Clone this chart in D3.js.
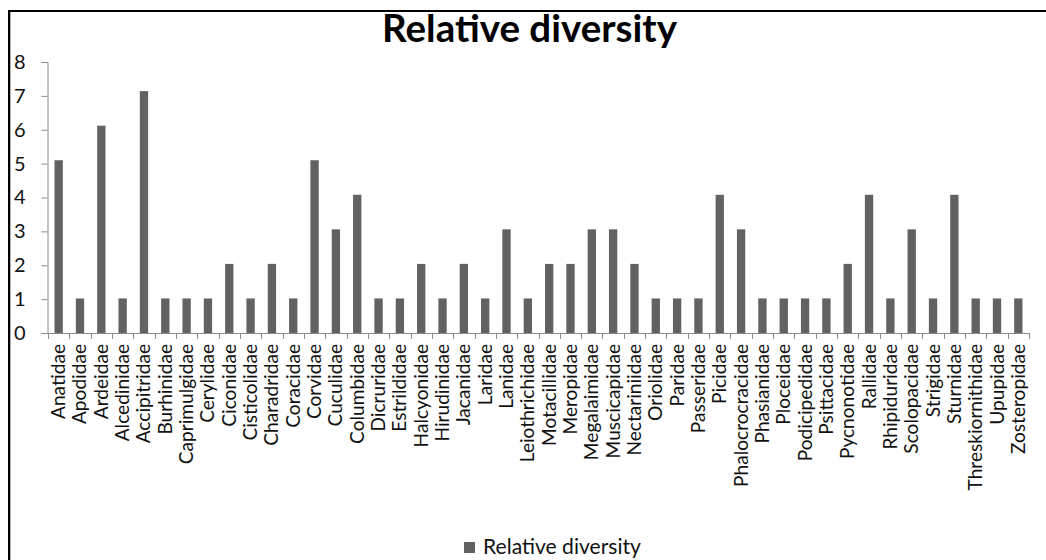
<!DOCTYPE html>
<html>
<head>
<meta charset="utf-8">
<script src="https://cdn.jsdelivr.net/npm/d3@7"></script>
<style>
  html, body { margin: 0; padding: 0; background: #fff; }
  svg { display: block; }
  text { font-family: Lato, "Open Sans", sans-serif; }
</style>
</head>
<body>
<svg id="chart" width="1046" height="560"></svg>
<script>
// Bird families and their share of recorded species (%)
const families = [
  "Anatidae", "Apodidae", "Ardeidae", "Alcedinidae", "Accipitridae",
  "Burhinidae", "Caprimulgidae", "Cerylidae", "Ciconidae", "Cisticolidae",
  "Charadridae", "Coracidae", "Corvidae", "Cuculidae", "Columbidae",
  "Dicruridae", "Estrildidae", "Halcyonidae", "Hirudinidae", "Jacanidae",
  "Laridae", "Lanidae", "Leiothrichidae", "Motacillidae", "Meropidae",
  "Megalaimidae", "Muscicapidae", "Nectariniidae", "Oriolidae", "Paridae",
  "Passeridae", "Picidae", "Phalocrocracidae", "Phasianidae", "Ploceidae",
  "Podicipedidae", "Psittacidae", "Pycnonotidae", "Rallidae", "Rhipiduridae",
  "Scolopacidae", "Strigidae", "Sturnidae", "Threskiornithidae", "Upupidae",
  "Zosteropidae"
];
const relativeDiversity = [
  5.10, 1.02, 6.12, 1.02, 7.14,
  1.02, 1.02, 1.02, 2.04, 1.02,
  2.04, 1.02, 5.10, 3.06, 4.08,
  1.02, 1.02, 2.04, 1.02, 2.04,
  1.02, 3.06, 1.02, 2.04, 2.04,
  3.06, 3.06, 2.04, 1.02, 1.02,
  1.02, 4.08, 3.06, 1.02, 1.02,
  1.02, 1.02, 2.04, 4.08, 1.02,
  3.06, 1.02, 4.08, 1.02, 1.02,
  1.02
];
const yTicks = [0, 1, 2, 3, 4, 5, 6, 7, 8];
const seriesName = "Relative diversity";
const chartTitle = "Relative diversity";

const barColor = "#626262";
const axisColor = "#8c8c8c";
const textColor = "#111";

const svg = d3.select("#chart");

// frame lines on the top and left edges
svg.append("rect").attr("x", 8).attr("y", 10).attr("width", 1038).attr("height", 2).attr("fill", "#000");
svg.append("rect").attr("x", 8).attr("y", 10).attr("width", 2).attr("height", 550).attr("fill", "#000");
svg.append("rect").attr("x", 10).attr("y", 12).attr("width", 1).attr("height", 548).attr("fill", "#b0b0b0");

const plot = { left: 48, right: 1029, top: 62, bottom: 333 };

const x = d3.scaleBand()
  .domain(families)
  .range([plot.left, plot.right])
  .paddingInner(0.61)
  .paddingOuter(0.305);

const y = d3.scaleLinear()
  .domain([0, 8])
  .range([plot.bottom, plot.top]);

// fit a text element to a target width by adjusting its font size
function fitWidth(sel, target) {
  const node = sel.node();
  const fs = parseFloat(sel.attr("font-size"));
  const w = node.getComputedTextLength();
  if (w > 0) sel.attr("font-size", (fs * target / w).toFixed(2));
}

// title
const title = svg.append("text")
  .attr("x", 529.5).attr("y", 42)
  .attr("text-anchor", "middle")
  .attr("font-size", 36)
  .attr("font-weight", "bold")
  .attr("fill", "#000")
  .text(chartTitle);
fitWidth(title, 295);

// bars
svg.append("g").selectAll("rect")
  .data(families)
  .join("rect")
  .attr("x", d => x(d))
  .attr("width", x.bandwidth())
  .attr("y", (d, i) => y(relativeDiversity[i]))
  .attr("height", (d, i) => y(0) - y(relativeDiversity[i]))
  .attr("fill", barColor);

// y axis
const yAxis = svg.append("g")
  .attr("transform", `translate(${plot.left - 0.5},0)`)
  .call(d3.axisLeft(y).tickValues(yTicks).tickSize(6).tickPadding(16).tickFormat(d3.format("d")));
yAxis.select(".domain").attr("stroke", axisColor);
yAxis.selectAll(".tick line").attr("stroke", axisColor);
yAxis.selectAll(".tick text")
  .attr("font-size", 20)
  .attr("fill", textColor)
  .style("font-family", "Lato, 'Open Sans', sans-serif");

// x axis: baseline with ticks between categories
const xAxis = svg.append("g");
xAxis.append("line")
  .attr("x1", plot.left).attr("x2", plot.right)
  .attr("y1", plot.bottom + 0.5).attr("y2", plot.bottom + 0.5)
  .attr("stroke", axisColor);
const step = x.step();
const boundaries = d3.range(families.length + 1).map(i => plot.left + i * step);
xAxis.selectAll("line.tk")
  .data(boundaries)
  .join("line")
  .attr("class", "tk")
  .attr("x1", d => Math.round(d) + 0.5).attr("x2", d => Math.round(d) + 0.5)
  .attr("y1", plot.bottom).attr("y2", plot.bottom + 6)
  .attr("stroke", axisColor);

// category labels, rotated
const labels = xAxis.selectAll("text.cat")
  .data(families)
  .join("text")
  .attr("class", "cat")
  .attr("text-anchor", "end")
  .attr("font-size", 19)
  .attr("fill", textColor)
  .attr("transform", d => `translate(${x(d) + x.bandwidth() / 2 + 6.5},${plot.bottom + 11}) rotate(-90)`)
  .text(d => d);
// scale the label font so "Anatidae" spans about 75px
{
  const first = labels.filter((d, i) => i === 0);
  const w = first.node().getComputedTextLength();
  if (w > 0) labels.attr("font-size", (19 * 75 / w).toFixed(2));
}

// legend
const legend = svg.append("g");
legend.append("rect")
  .attr("x", 464).attr("y", 542).attr("width", 11).attr("height", 11)
  .attr("fill", barColor);
const legText = legend.append("text")
  .attr("x", 483).attr("y", 554)
  .attr("font-size", 19)
  .attr("fill", textColor)
  .text(seriesName);
fitWidth(legText, 158);
</script>
</body>
</html>
